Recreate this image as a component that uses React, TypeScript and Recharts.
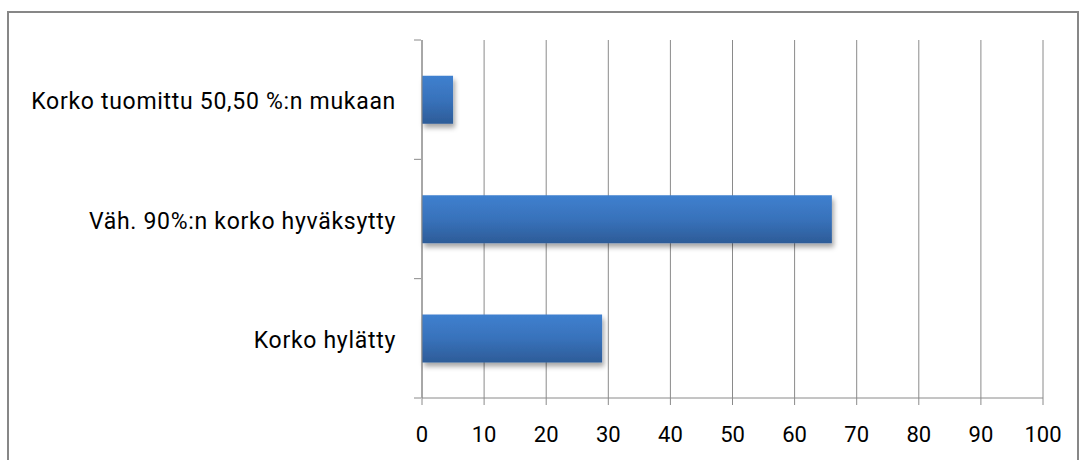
import { BarChart, Bar, XAxis, YAxis, CartesianGrid } from "recharts";

const categories = [
  "Korko tuomittu 50,50 %:n mukaan",
  "Väh. 90%:n korko hyväksytty",
  "Korko hylätty",
];
const values = [5, 66, 29];
const xTicks = [0, 10, 20, 30, 40, 50, 60, 70, 80, 90, 100];

const data = categories.map((name, i) => ({ name, value: values[i] }));

const FONT = "Roboto, 'Open Sans', sans-serif";
const GRID = "#8a8a8a";

// y tick: label centered in the band, tick mark on band edges (Excel style)
function CategoryTick(props: any) {
  const { x, y, payload, index } = props;
  const half = payload?.offset ?? 59.7;
  return (
    <g>
      <line x1={x} x2={x + 7} y1={y - half} y2={y - half} stroke={GRID} />
      {index === categories.length - 1 && (
        <line x1={x} x2={x + 7} y1={y + half} y2={y + half} stroke={GRID} />
      )}
      <text
        x={x - 18}
        y={y + 2}
        textAnchor="end"
        dominantBaseline="central"
        fontFamily={FONT}
        fontSize={23}
        letterSpacing={0.7}
        fill="#000"
      >
        {payload.value}
      </text>
    </g>
  );
}

export default function App() {
  return (
    <div
      style={{
        position: "absolute",
        left: 0,
        top: 0,
        width: 1080,
        height: 460,
        background: "#fff",
        overflow: "hidden",
      }}
    >
      <div
        style={{
          position: "absolute",
          left: 7,
          top: 11,
          width: 1068,
          height: 470,
          border: "2px solid #878787",
        }}
      />
      <div style={{ position: "absolute", left: 0, top: 0 }}>
        <BarChart
          width={1080}
          height={460}
          data={data}
          layout="vertical"
          margin={{ top: 40, right: 37, bottom: 22, left: 22 }}
          barCategoryGap="30%"
        >
          <defs>
            <linearGradient id="barGrad" x1="0" y1="0" x2="0" y2="1">
              <stop offset="0%" stopColor="#3F80CF" />
              <stop offset="50%" stopColor="#3872BB" />
              <stop offset="100%" stopColor="#2D5C98" />
            </linearGradient>
            <filter id="barShadow" x="-10%" y="-20%" width="130%" height="160%">
              <feDropShadow dx="2" dy="4" stdDeviation="2.5" floodColor="#000" floodOpacity="0.35" />
            </filter>
          </defs>
          <CartesianGrid horizontal={false} stroke={GRID} strokeWidth={1} />
          <XAxis
            type="number"
            domain={[0, 100]}
            ticks={xTicks}
            interval={0}
            height={40}
            axisLine={{ stroke: GRID }}
            tickLine={{ stroke: GRID }}
            tickSize={7}
            tick={{ fill: "#000", fontSize: 22, fontFamily: FONT }}
            tickMargin={21}
          />
          <YAxis
            type="category"
            dataKey="name"
            width={400}
            axisLine={{ stroke: GRID }}
            tickLine={false}
            tick={<CategoryTick />}
            interval={0}
          />
          <Bar
            dataKey="value"
            fill="url(#barGrad)"
            filter="url(#barShadow)"
            isAnimationActive={false}
          />
        </BarChart>
      </div>
    </div>
  );
}
